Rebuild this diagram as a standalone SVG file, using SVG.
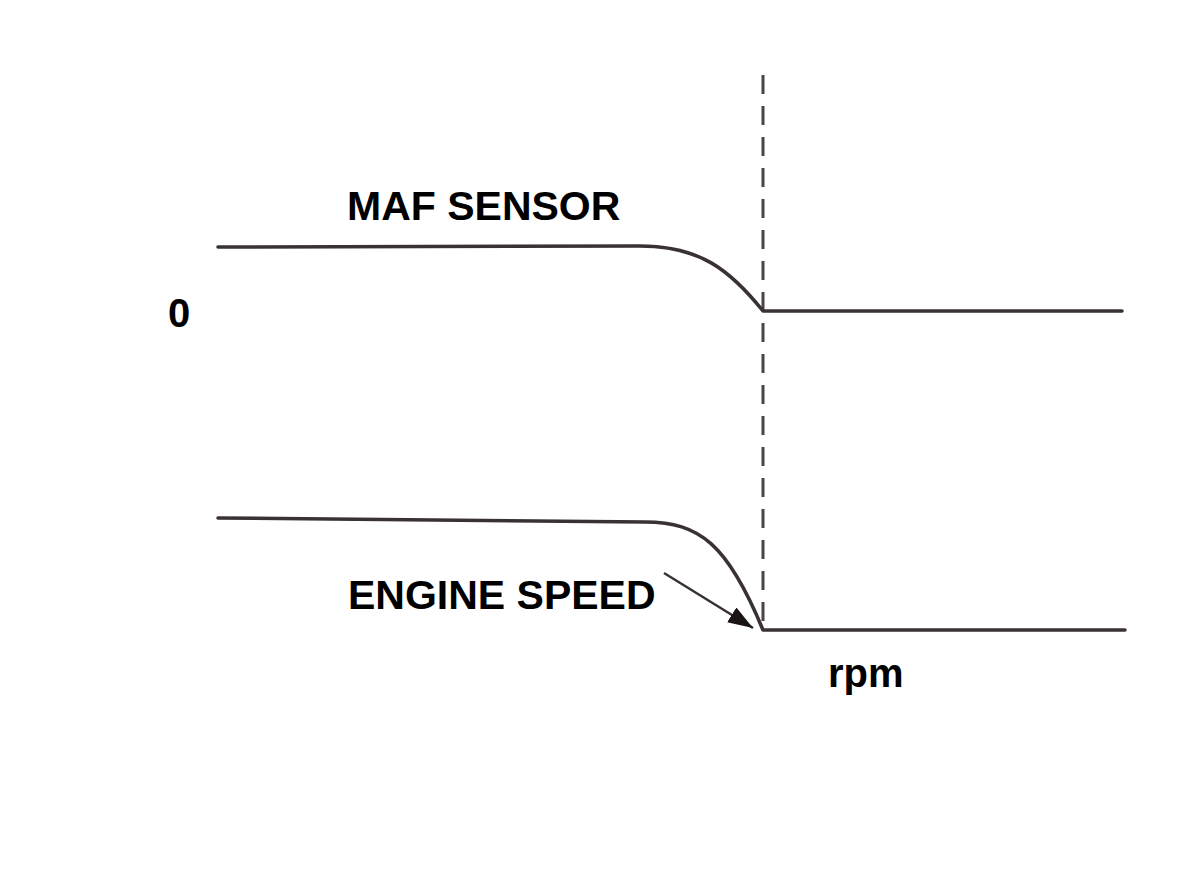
<svg xmlns="http://www.w3.org/2000/svg" width="1200" height="878" viewBox="0 0 1200 878">
  <style>
    .curve { fill: none; stroke: #3a3232; stroke-width: 3.5; stroke-linejoin: round; stroke-linecap: round; }
    .dash { fill: none; stroke: #4a4444; stroke-width: 3; stroke-dasharray: 19 12; }
    .lbl { font-family: "Liberation Sans", Arial, sans-serif; font-weight: bold; fill: #000; }
    .arrow { fill: none; stroke: #3a3232; stroke-width: 2.5; }
  </style>
  <defs>
    <marker id="ah" viewBox="0 0 10 10" refX="10" refY="5" markerWidth="10" markerHeight="7" markerUnits="strokeWidth" orient="auto" preserveAspectRatio="none">
      <path d="M0,0 L10,5 L0,10 Z" fill="#1a1414"/>
    </marker>
  </defs>
  <rect width="1200" height="878" fill="#ffffff"/>
  <g id="cursor">
    <line class="dash" x1="763" y1="75" x2="763" y2="630"/>
  </g>
  <g id="maf-sensor">
    <path class="curve" d="M218,247 L640,246 C700,246 730,270 763,311 L1122,311"/>
    <text class="lbl" x="347" y="220" font-size="41">MAF SENSOR</text>
  </g>
  <g id="engine-speed">
    <path class="curve" d="M218,518 L645,522 C700,522 728,545 763,630 L1125,630"/>
    <text class="lbl" x="348" y="609" font-size="41">ENGINE SPEED</text>
  </g>
  <g id="zero-label">
    <text class="lbl" x="168" y="327" font-size="40">0</text>
  </g>
  <g id="rpm-label">
    <text class="lbl" x="828" y="687" font-size="40">rpm</text>
  </g>
  <g id="connectors">
    <line class="arrow" x1="664" y1="573" x2="753" y2="628" marker-end="url(#ah)"/>
  </g>
</svg>
